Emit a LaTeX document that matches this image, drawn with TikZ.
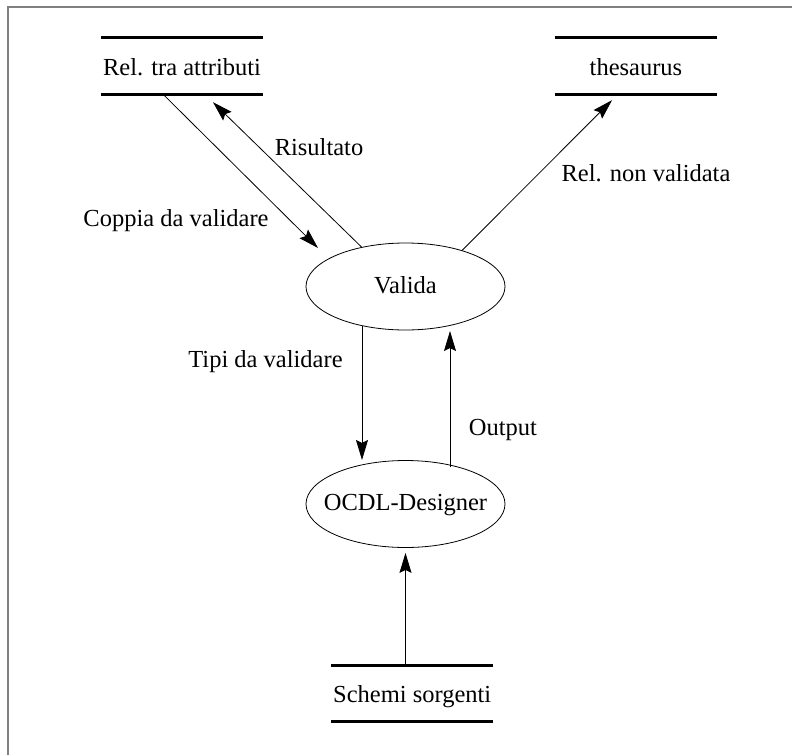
\documentclass[tikz,border=0pt]{standalone}
\usepackage{fontspec}
\setmainfont{Liberation Serif}
\usetikzlibrary{shapes.geometric,arrows.meta}
\begin{document}
\begin{tikzpicture}[x=1pt,y=-1pt,
  every node/.style={font=\fontsize{24.5}{29}\selectfont, inner sep=0pt},
  store/.style={rectangle, minimum width=162pt, minimum height=56pt,
    text height=18pt, text depth=0pt},
  bar/.style={line width=2.8pt},
  process/.style={ellipse, draw, line width=0.8pt, minimum width=199pt, minimum height=87pt},
  flow/.style={line width=0.8pt, -{Stealth[length=20pt,width=12pt,inset=3pt]}},
  lbl/.style={anchor=base},
  frameline/.style={draw=black!50, line width=2pt}]
  \useasboundingbox (0,0) rectangle (792,755);
  % page frame
  \draw[frameline] (7.5,755) -- (7.5,6.5) -- (792,6.5);

  % data stores
  \node[store] (rel)  at (182,66)    {Rel. tra attributi};
  \node[store] (thes) at (636,66)    {thesaurus};
  \node[store] (sch)  at (412.2,693.5) {Schemi sorgenti};
  \foreach \s in {rel,thes,sch}{
    \draw[bar] (\s.north west) -- (\s.north east);
    \draw[bar] (\s.south west) -- (\s.south east);
  }

  % processes
  \node[process] (valida) at (405.5,286.5) {};
  \node[lbl] (validatxt) at ([yshift=-6.8pt]valida.center) {Valida};
  \node[process] (ocdl) at (405.5,504) {};
  \node[lbl] (ocdltxt) at ([yshift=-6pt]ocdl.center) {OCDL-Designer};

  % flows
  \draw[flow] ([xshift=-19pt]rel.south) -- ([xshift=-87.5pt,yshift=38.5pt]valida.center);
  \draw[flow] ([xshift=-43.5pt,yshift=39pt]valida.center) -- ([xshift=31pt,yshift=-8pt]rel.south);
  \draw[flow] ([xshift=56.5pt,yshift=36pt]valida.center) -- ([xshift=-24pt,yshift=-6pt]thes.south);
  \draw[flow] ([xshift=-43.5pt,yshift=-39pt]valida.center) -- ([xshift=-43.5pt,yshift=44pt]ocdl.center);
  \draw[flow] ([xshift=44.5pt,yshift=37.5pt]ocdl.center) -- ([xshift=44.5pt,yshift=-44.5pt]valida.center);
  \draw[flow] (sch.north -| ocdl.south) -- ([yshift=-5pt]ocdl.south);

  % flow labels
  \node[lbl] (lcoppia) at (176,226.7) {Coppia da validare};
  \node[lbl] (lris)    at (319,155.7) {Risultato};
  \node[lbl] (lrnv)    at (646,181.7) {Rel. non validata};
  \node[lbl] (ltipi)   at (265.5,367.7) {Tipi da validare};
  \node[lbl] (lout)    at (503,435) {Output};
\end{tikzpicture}
\end{document}
